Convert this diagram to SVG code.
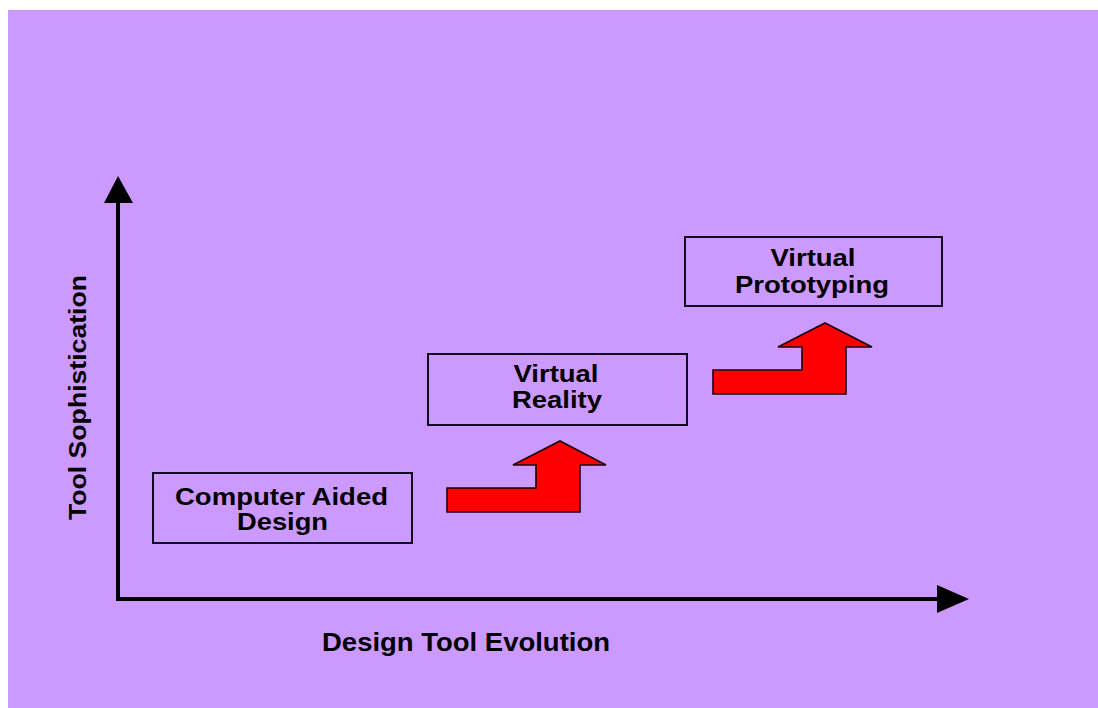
<svg xmlns="http://www.w3.org/2000/svg" width="1098" height="708" viewBox="0 0 1098 708">
  <style>
    .lbl { font-family: "Liberation Sans", Arial, sans-serif; font-weight: bold; fill: #000; }
    .box { fill: none; stroke: #120826; stroke-width: 2; }
    .step { fill: #ff0000; stroke: #1a0010; stroke-width: 1.6; stroke-linejoin: miter; }
    .axis { stroke: #000; stroke-width: 4; fill: none; }
  </style>

  <!-- background panel -->
  <rect x="0" y="0" width="1098" height="708" fill="#ffffff"/>
  <rect x="8" y="10" width="1090" height="698" fill="#cc99ff"/>

  <!-- axes -->
  <g id="axes">
    <line class="axis" x1="118" y1="200" x2="118" y2="600"/>
    <line class="axis" x1="116" y1="599" x2="940" y2="599"/>
    <polygon points="118,176 104,203 133,203" fill="#000"/>
    <polygon points="937,585 969,599 937,613" fill="#000"/>
    <text class="lbl" font-size="24" transform="translate(86,397.5) rotate(-90)" text-anchor="middle" textLength="245" lengthAdjust="spacingAndGlyphs">Tool Sophistication</text>
    <text class="lbl" font-size="25" x="466" y="651" text-anchor="middle" textLength="288" lengthAdjust="spacingAndGlyphs">Design Tool Evolution</text>
  </g>

  <!-- stages -->
  <g id="cad">
    <rect class="box" x="153" y="473" width="259" height="70"/>
    <text class="lbl" font-size="23" x="281.5" y="505" text-anchor="middle" textLength="213" lengthAdjust="spacingAndGlyphs">Computer Aided</text>
    <text class="lbl" font-size="23" x="282.5" y="530" text-anchor="middle" textLength="91" lengthAdjust="spacingAndGlyphs">Design</text>
  </g>

  <g id="vr">
    <rect class="box" x="428" y="354" width="259" height="71"/>
    <text class="lbl" font-size="23" x="556" y="382" text-anchor="middle" textLength="85" lengthAdjust="spacingAndGlyphs">Virtual</text>
    <text class="lbl" font-size="23" x="557" y="408" text-anchor="middle" textLength="90" lengthAdjust="spacingAndGlyphs">Reality</text>
  </g>

  <g id="vp">
    <rect class="box" x="685" y="237" width="257" height="69"/>
    <text class="lbl" font-size="23" x="813" y="266" text-anchor="middle" textLength="85" lengthAdjust="spacingAndGlyphs">Virtual</text>
    <text class="lbl" font-size="23" x="812" y="293" text-anchor="middle" textLength="154" lengthAdjust="spacingAndGlyphs">Prototyping</text>
  </g>

  <!-- step arrows between stages -->
  <g id="connectors">
    <polygon class="step" points="447,488 536,488 536,465 513,465 560,441 606,465 580,465 580,512 447,512"/>
    <polygon class="step" points="713,370 802,370 802,347 778,347 825,323 872,347 846,347 846,394 713,394"/>
  </g>
</svg>
